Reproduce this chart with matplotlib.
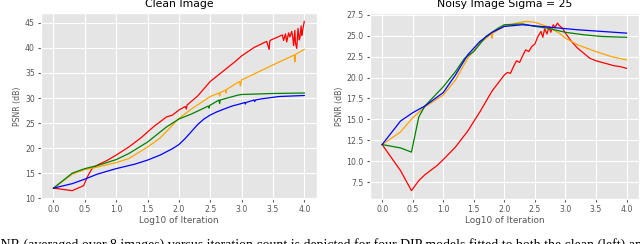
import matplotlib
matplotlib.use("Agg")
import matplotlib.pyplot as plt

plt.style.use("ggplot")

# clean image, log10 of iteration vs PSNR
clean_red_x = [0.0, 0.30, 0.48, 0.55, 0.62, 0.7, 0.85, 1.0, 1.2, 1.4, 1.6, 1.8, 1.9, 2.0, 2.1, 2.12, 2.13,
               2.15, 2.3, 2.5, 2.7, 2.9, 3.0, 3.2, 3.4, 3.44, 3.45, 3.47, 3.6, 3.65, 3.67, 3.7, 3.72, 3.75,
               3.77, 3.8, 3.82, 3.83, 3.85, 3.86, 3.88, 3.9, 3.92, 3.93, 3.95, 3.96, 3.97, 3.99, 4.0]
clean_red_y = [12.0, 11.5, 12.5, 14.5, 16.0, 16.6, 17.5, 18.6, 20.2, 22.1, 24.3, 26.2, 26.6, 27.6, 28.3, 27.8, 28.6,
               28.8, 30.4, 33.3, 35.3, 37.3, 38.4, 40.1, 41.3, 39.7, 41.4, 41.6, 42.3, 42.6, 41.5, 42.8, 41.2, 43.0,
               42.2, 43.3, 41.8, 40.5, 43.5, 41.0, 39.9, 43.9, 41.6, 42.0, 44.4, 42.5, 43.2, 44.6, 45.3]
clean_orange_x = [0.0, 0.3, 0.5, 0.7, 1.0, 1.2, 1.5, 1.7, 1.9, 2.0, 2.2, 2.5, 2.64, 2.65, 2.66, 2.7, 2.74, 2.75,
                  2.76, 2.9, 2.97, 2.98, 3.0, 3.5, 3.84, 3.85, 3.86, 4.0]
clean_orange_y = [12.0, 14.8, 15.7, 16.2, 17.1, 17.9, 20.2, 22.0, 24.6, 25.9, 27.8, 30.3, 31.0, 30.4, 31.1, 31.3,
                  31.6, 31.0, 31.7, 32.8, 33.3, 32.4, 33.6, 36.6, 38.6, 37.2, 38.7, 39.7]
clean_green_x = [0.0, 0.3, 0.5, 0.7, 1.0, 1.2, 1.5, 1.8, 2.0, 2.2, 2.47, 2.48, 2.49, 2.64, 2.65, 2.66, 2.8, 2.95,
                 3.0, 3.5, 4.0]
clean_green_y = [12.0, 15.0, 15.9, 16.5, 17.7, 18.9, 21.2, 24.2, 25.8, 26.8, 28.4, 28.0, 28.5, 29.6, 28.9, 29.6,
                 30.1, 30.6, 30.7, 30.9, 31.0]
clean_blue_x = [0.0, 0.3, 0.5, 0.7, 1.0, 1.3, 1.5, 1.7, 1.9, 2.0, 2.1, 2.2, 2.3, 2.4, 2.5, 2.6, 2.7, 2.85, 3.0,
                3.05, 3.06, 3.07, 3.2, 3.21, 3.22, 3.3, 3.6, 4.0]
clean_blue_y = [12.0, 12.9, 13.8, 14.8, 15.9, 16.8, 17.6, 18.6, 19.9, 20.7, 21.9, 23.3, 24.7, 25.8, 26.6, 27.2,
                27.7, 28.4, 28.9, 29.1, 28.8, 29.1, 29.6, 29.3, 29.6, 29.8, 30.3, 30.5]

# noisy image (sigma = 25)
noisy_red_x = [0.0, 0.3, 0.48, 0.6, 0.7, 0.9, 1.0, 1.2, 1.4, 1.6, 1.8, 2.0, 2.05, 2.1, 2.15, 2.2, 2.25, 2.3,
               2.35, 2.4, 2.45, 2.5, 2.55, 2.6, 2.63, 2.66, 2.7, 2.73, 2.76, 2.8, 2.83, 2.87, 2.9, 2.95, 3.0,
               3.1, 3.2, 3.3, 3.4, 3.5, 3.6, 3.7, 3.8, 3.9, 4.0]
noisy_red_y = [12.0, 8.9, 6.5, 7.7, 8.4, 9.5, 10.2, 11.7, 13.6, 15.9, 18.4, 20.3, 20.6, 20.5, 21.3, 22.0, 21.8,
               22.6, 23.3, 23.1, 23.7, 24.0, 24.9, 25.5, 24.8, 25.8, 25.2, 26.1, 25.4, 26.3, 26.0, 26.5, 26.2,
               25.9, 25.3, 24.3, 23.5, 22.9, 22.3, 22.0, 21.8, 21.6, 21.4, 21.3, 21.1]
noisy_orange_x = [0.0, 0.3, 0.5, 0.7, 1.0, 1.2, 1.4, 1.6, 1.79, 1.8, 1.81, 2.0, 2.2, 2.35, 2.5, 2.7, 2.9, 3.0,
                  3.2, 3.5, 3.75, 4.0]
noisy_orange_y = [12.0, 13.5, 15.2, 16.5, 17.9, 19.7, 22.3, 24.1, 25.2, 24.7, 25.3, 26.1, 26.5, 26.7, 26.6, 26.1,
                  25.3, 24.7, 23.9, 23.1, 22.5, 22.1]
noisy_green_x = [0.0, 0.3, 0.48, 0.6, 0.7, 1.0, 1.2, 1.35, 1.5, 1.7, 1.9, 2.0, 2.3, 2.5, 2.7, 3.0, 3.3, 3.6, 4.0]
noisy_green_y = [12.0, 11.6, 11.1, 15.3, 16.6, 18.9, 20.7, 22.3, 23.1, 24.9, 25.9, 26.3, 26.4, 26.1, 25.9, 25.4,
                 25.1, 24.9, 24.8]
noisy_blue_x = [0.0, 0.3, 0.5, 0.7, 1.0, 1.2, 1.4, 1.6, 1.8, 2.0, 2.3, 2.6, 2.9, 3.2, 3.6, 4.0]
noisy_blue_y = [12.0, 14.8, 15.8, 16.6, 18.2, 20.3, 22.7, 24.3, 25.4, 26.1, 26.3, 26.1, 25.9, 25.7, 25.5, 25.3]

caption = ("PSNR (averaged over 8 images) versus iteration count is depicted for four DIP models "
           "fitted to both the clean (left) and noisy (right) images")

fig = plt.figure(figsize=(6.4, 2.44), dpi=100)
ax1 = fig.add_axes([0.064, 0.184, 0.431, 0.763])
ax2 = fig.add_axes([0.578, 0.184, 0.420, 0.763])

lw = 0.9
ax1.plot(clean_red_x, clean_red_y, color="red", lw=lw)
ax1.plot(clean_orange_x, clean_orange_y, color="orange", lw=lw)
ax1.plot(clean_green_x, clean_green_y, color="green", lw=lw)
ax1.plot(clean_blue_x, clean_blue_y, color="blue", lw=lw)

ax2.plot(noisy_red_x, noisy_red_y, color="red", lw=lw)
ax2.plot(noisy_orange_x, noisy_orange_y, color="orange", lw=lw)
ax2.plot(noisy_green_x, noisy_green_y, color="green", lw=lw)
ax2.plot(noisy_blue_x, noisy_blue_y, color="blue", lw=lw)

ax1.set_title("Clean Image", fontsize=7.8, pad=4)
ax2.set_title("Noisy Image Sigma = 25", fontsize=7.8, pad=4)
ax2.set_yticks([7.5, 10, 12.5, 15, 17.5, 20, 22.5, 25, 27.5])
ax2.set_yticklabels(["7.5", "10.0", "12.5", "15.0", "17.5", "20.0", "22.5", "25.0", "27.5"])

for ax in (ax1, ax2):
    ax.set_xticks([0, 0.5, 1, 1.5, 2, 2.5, 3, 3.5, 4])
    ax.tick_params(labelsize=5.6, length=2.5, pad=2)
    ax.set_xlabel("Log10 of Iteration", fontsize=6.4, labelpad=1.5)
    ax.set_ylabel("PSNR (dB)", fontsize=5.6, labelpad=2)

# caption of the paper figure, cut by the bottom edge
fig.text(-0.024, -0.018, caption, fontsize=10, family="Liberation Serif", ha="left", va="baseline")

fig.savefig("out.png", dpi=100)
